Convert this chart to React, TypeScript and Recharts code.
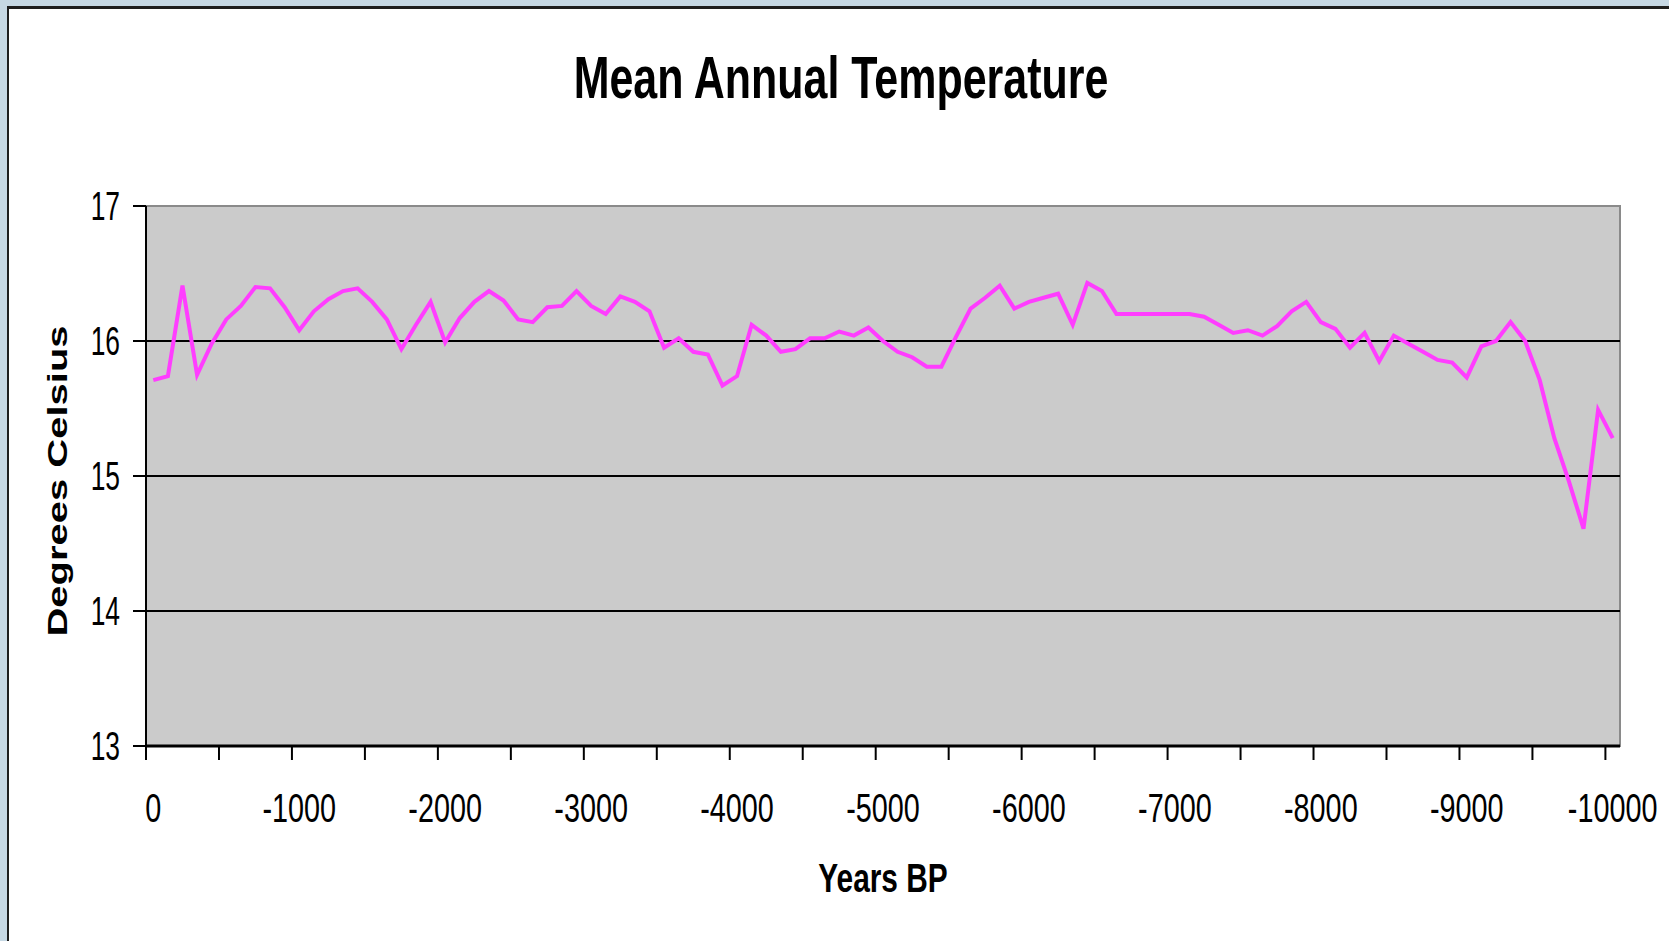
import { LineChart, Line, XAxis, YAxis, ReferenceArea, ReferenceLine, Label } from 'recharts';

const years = [
  0, -100, -200, -300, -400, -500, -600, -700, -800, -900,
  -1000, -1100, -1200, -1300, -1400, -1500, -1600, -1700, -1800, -1900,
  -2000, -2100, -2200, -2300, -2400, -2500, -2600, -2700, -2800, -2900,
  -3000, -3100, -3200, -3300, -3400, -3500, -3600, -3700, -3800, -3900,
  -4000, -4100, -4200, -4300, -4400, -4500, -4600, -4700, -4800, -4900,
  -5000, -5100, -5200, -5300, -5400, -5500, -5600, -5700, -5800, -5900,
  -6000, -6100, -6200, -6300, -6400, -6500, -6600, -6700, -6800, -6900,
  -7000, -7100, -7200, -7300, -7400, -7500, -7600, -7700, -7800, -7900,
  -8000, -8100, -8200, -8300, -8400, -8500, -8600, -8700, -8800, -8900,
  -9000, -9100, -9200, -9300, -9400, -9500, -9600, -9700, -9800, -9900,
  -10000,
];

const meanTemps = [
  15.71, 15.74, 16.41, 15.75, 15.98, 16.16, 16.26, 16.4, 16.39, 16.25,
  16.08, 16.22, 16.31, 16.37, 16.39, 16.29, 16.16, 15.94, 16.12, 16.29,
  15.99, 16.17, 16.29, 16.37, 16.3, 16.16, 16.14, 16.25, 16.26, 16.37,
  16.26, 16.2, 16.33, 16.29, 16.22, 15.95, 16.02, 15.92, 15.9, 15.67,
  15.74, 16.12, 16.04, 15.92, 15.94, 16.02, 16.02, 16.07, 16.04, 16.1,
  16.0, 15.92, 15.88, 15.81, 15.81, 16.03, 16.24, 16.32, 16.41, 16.24,
  16.29, 16.32, 16.35, 16.12, 16.43, 16.37, 16.2, 16.2, 16.2, 16.2,
  16.2, 16.2, 16.18, 16.12, 16.06, 16.08, 16.04, 16.11, 16.22, 16.29,
  16.14, 16.09, 15.95, 16.06, 15.85, 16.04, 15.98, 15.92, 15.86, 15.84,
  15.73, 15.96, 16.0, 16.14, 16.0, 15.71, 15.28, 14.96, 14.61, 15.49,
  15.28,
];

const yearLabels = [0, -1000, -2000, -3000, -4000, -5000, -6000, -7000, -8000, -9000, -10000];
const tempTicks = [13, 14, 15, 16, 17];
const gridTemps = [14, 15, 16];

const data = years.map((year, i) => ({ year, temp: meanTemps[i] }));

// excel-style category axis: marks sit between categories, every 5th one
const halfStep = (years[0] - years[1]) / 2;
const tickMarks = years.filter((_, i) => i % 5 === 0).map((y) => y + halfStep);
const xDomain = [years[years.length - 1] - halfStep, years[0] + halfStep];

const FONT = '"Liberation Sans", Arial, sans-serif';

function YearTick(props: any) {
  const { x, y, payload } = props;
  const v = payload.value;
  if (yearLabels.includes(v)) {
    return (
      <g transform={`translate(${x},${y + 76}) scale(0.72,1)`}>
        <text textAnchor="middle" fontFamily={FONT} fontSize={40} fill="#000">
          {v}
        </text>
      </g>
    );
  }
  return <line x1={x} x2={x} y1={y} y2={y + 14} stroke="#000" strokeWidth={2} />;
}

function TempTick(props: any) {
  const { x, y, payload } = props;
  return (
    <g transform={`translate(${x},${y}) scale(0.66,1)`}>
      <text textAnchor="end" dy="0.36em" fontFamily={FONT} fontSize={40} fill="#000">
        {payload.value}
      </text>
    </g>
  );
}

function XTitle(props: any) {
  const vb = props.viewBox || {};
  return (
    <g transform={`translate(${vb.x + vb.width / 2},${vb.y + 146}) scale(0.728,1)`}>
      <text textAnchor="middle" fontFamily={FONT} fontWeight="bold" fontSize={41} fill="#000">
        Years BP
      </text>
    </g>
  );
}

function YTitle(props: any) {
  const vb = props.viewBox || {};
  return (
    <g transform={`translate(${vb.x + 21},${vb.y + vb.height / 2 + 5}) scale(0.7,1) rotate(-90)`}>
      <text textAnchor="middle" fontFamily={FONT} fontWeight="bold" fontSize={40} fill="#000">
        Degrees Celsius
      </text>
    </g>
  );
}

export default function App() {
  return (
    <div
      style={{
        position: 'fixed',
        left: 0,
        top: 0,
        width: 1669,
        height: 941,
        background: '#c6d8e4',
        overflow: 'hidden',
      }}
    >
      <div
        style={{
          position: 'absolute',
          left: 7,
          top: 6,
          right: -10,
          bottom: -10,
          background: '#fff',
          borderTop: '3px solid #1e1e1e',
          borderLeft: '2px solid #1e1e1e',
        }}
      />
      <div style={{ position: 'absolute', left: 0, top: 0 }}>
        <LineChart width={1669} height={941} data={data} margin={{ top: 206, right: 49, bottom: 135, left: 46 }}>
          <ReferenceArea
            x1={xDomain[0]}
            x2={xDomain[1]}
            y1={13}
            y2={17}
            fill="#cbcbcb"
            fillOpacity={1}
            stroke="#8a8a8a"
            strokeWidth={2}
          />
          {gridTemps.map((t) => (
            <ReferenceLine key={t} y={t} stroke="#000" strokeWidth={2.2} />
          ))}
          <XAxis
            dataKey="year"
            type="number"
            domain={xDomain}
            reversed
            ticks={[...tickMarks, ...yearLabels]}
            interval={0}
            tick={<YearTick />}
            tickLine={false}
            tickSize={0}
            tickMargin={0}
            height={60}
            axisLine={{ stroke: '#000', strokeWidth: 3 }}
          >
            <Label content={<XTitle />} />
          </XAxis>
          <YAxis
            type="number"
            domain={[13, 17]}
            ticks={tempTicks}
            interval={0}
            width={100}
            tick={<TempTick />}
            tickSize={13}
            tickMargin={13}
            tickLine={{ stroke: '#000', strokeWidth: 2 }}
            axisLine={{ stroke: '#000', strokeWidth: 2 }}
          >
            <Label content={<YTitle />} />
          </YAxis>
          <Line
            type="linear"
            dataKey="temp"
            stroke="#ff3dff"
            strokeWidth={4}
            dot={false}
            isAnimationActive={false}
          />
        </LineChart>
      </div>
      <svg
        width={1669}
        height={941}
        style={{ position: 'absolute', left: 0, top: 0, pointerEvents: 'none' }}
      >
        <g transform="translate(841,98) scale(0.716,1)">
          <text textAnchor="middle" fontFamily={FONT} fontWeight="bold" fontSize={60} fill="#000">
            Mean Annual Temperature
          </text>
        </g>
      </svg>
    </div>
  );
}
